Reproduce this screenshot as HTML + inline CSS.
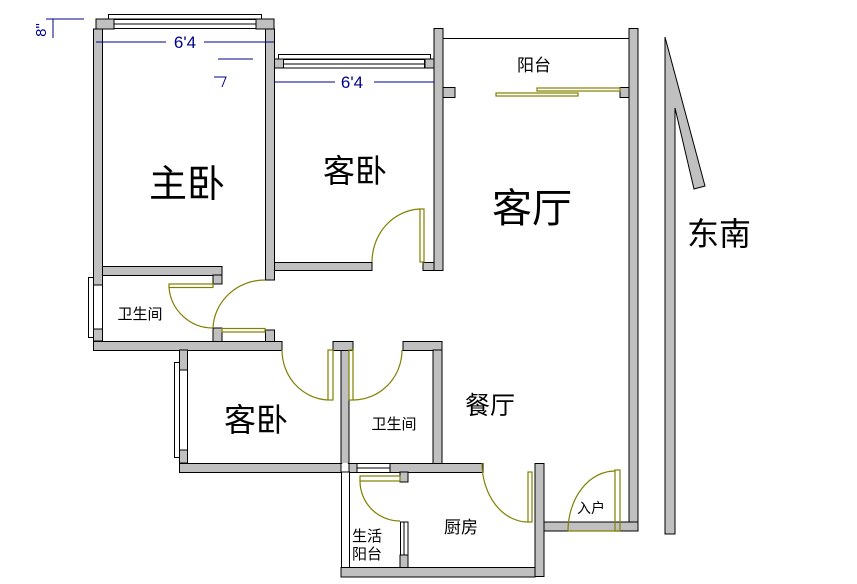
<!DOCTYPE html>
<html><head><meta charset="utf-8"><style>
html,body{margin:0;padding:0;background:#fff;}
svg{display:block;}
text{font-family:"Liberation Sans","Noto Sans CJK SC",sans-serif;}
.cj{font-family:"Noto Serif CJK SC","Noto Sans CJK SC",serif;}
</style></head><body>
<svg width="857" height="584" viewBox="0 0 857 584" xmlns="http://www.w3.org/2000/svg">
<g fill="#c0c0c0" stroke="#000" stroke-width="1">
<!-- master bedroom -->
<rect x="96" y="19" width="18" height="10"/>
<rect x="93.5" y="29" width="9" height="312"/>
<rect x="256" y="19" width="18" height="10"/>
<rect x="265.5" y="29" width="9" height="251"/>
<rect x="102.5" y="266.5" width="119.5" height="9"/>
<rect x="213" y="275" width="9" height="9"/>
<!-- bath1 -->
<rect x="93.5" y="341.5" width="188.5" height="9"/>
<rect x="213" y="328" width="9" height="13.5"/>
<rect x="265.5" y="330" width="9" height="11.5"/>
<!-- upper guest bedroom -->
<rect x="274.5" y="59" width="9" height="9"/>
<rect x="425" y="59" width="9" height="9"/>
<rect x="274.5" y="262.5" width="97.5" height="8"/>
<rect x="423" y="262.5" width="20" height="8"/>
<!-- living left wall -->
<rect x="434" y="28.5" width="9" height="242"/>
<rect x="443" y="87.5" width="12" height="10"/>
<rect x="620" y="87.5" width="9" height="10"/>
<rect x="629" y="28.5" width="9" height="502"/>
<rect x="544" y="522" width="94" height="9"/>
<!-- lower bedroom -->
<rect x="179.5" y="350" width="8" height="113"/>
<rect x="179.5" y="463.5" width="161.5" height="9"/>
<rect x="341" y="341.5" width="8" height="122"/>
<rect x="333" y="341.5" width="20" height="9"/>
<rect x="403" y="341.5" width="39" height="9"/>
<rect x="433" y="350" width="9" height="113.5"/>
<rect x="349" y="463.5" width="8" height="9"/>
<rect x="390" y="463.5" width="93" height="9"/>
<rect x="535" y="463.5" width="9" height="113"/>
<rect x="341" y="567.5" width="194" height="9.5"/>
<rect x="400" y="472" width="8" height="10"/>
<rect x="400" y="555" width="8" height="12.5"/>
<!-- compass -->
<polygon points="665,37 675,107 694,189 705,186 675,70 675,534 665,534" fill="none" stroke="none"/>
<polygon points="665,37 705,186 694,189 675,108 675,534 665,534"/>
</g>
<g fill="#fff" stroke="#000" stroke-width="1">
<rect x="108.5" y="14.5" width="153" height="4.5"/>
<rect x="114" y="19.5" width="142" height="9"/>
<line x1="114" y1="24" x2="256" y2="24"/>
<rect x="278.5" y="54.5" width="152" height="4.5"/>
<rect x="283.5" y="59.5" width="141" height="8.5"/>
<line x1="284" y1="64" x2="425" y2="64"/>
<rect x="88.5" y="277.5" width="5" height="60"/>
<rect x="93.5" y="285" width="9" height="44"/>
<rect x="174.5" y="362.5" width="5" height="95"/>
<rect x="179.5" y="370" width="8" height="80"/>
<rect x="357" y="463.5" width="33" height="9"/>
<line x1="357" y1="468" x2="390" y2="468"/>
<rect x="341.5" y="472" width="8" height="95.5"/>
<rect x="400.5" y="522" width="7.5" height="33"/>
<line x1="404" y1="522" x2="404" y2="555"/>
<line x1="443" y1="38.5" x2="629" y2="38.5"/>
</g>
<polygon points="342,463 348,463 345,470" fill="#fff"/>
<!-- doors -->
<g fill="none" stroke="#808000" stroke-width="1.2">
<rect x="169" y="284" width="44" height="3.5"/>
<path d="M169,287 A44,44 0 0 0 213,328"/>
<rect x="222" y="328.5" width="43" height="3.5"/>
<path d="M213,328 A52,50 0 0 1 265,280"/>
<rect x="420" y="209" width="4" height="53"/>
<path d="M372,262 A50,53 0 0 1 420,209"/>
<rect x="328" y="350" width="5" height="50"/>
<path d="M282,350 A48,50 0 0 0 328,400"/>
<rect x="349" y="350" width="4" height="50"/>
<path d="M353,400 A49,50 0 0 0 402,350"/>
<rect x="360" y="476" width="40" height="5"/>
<path d="M360,481 A40,40 0 0 0 400,521"/>
<rect x="528" y="472" width="4" height="50"/>
<path d="M482,463 A46,59 0 0 0 528,522"/>
<rect x="615" y="470" width="5" height="61"/>
<path d="M568,531 A47,60 0 0 1 615,471"/>
<line x1="568" y1="531" x2="620" y2="531"/>
<rect x="537" y="88" width="83" height="3"/>
<rect x="496" y="93" width="82" height="3"/>
</g>
<!-- dimensions -->
<g stroke="#00008b" stroke-width="1" fill="none">
<line x1="96" y1="42" x2="166" y2="42"/>
<line x1="204" y1="42" x2="274" y2="42"/>
<line x1="274" y1="82" x2="335" y2="82"/>
<line x1="374" y1="82" x2="434" y2="82"/>
<line x1="46" y1="19" x2="84" y2="19"/>
<line x1="53" y1="19" x2="53" y2="38"/>
<line x1="218" y1="59" x2="253" y2="59"/>
<path d="M214,77 L226,77 L222,87"/>
</g>
<g fill="#00008b" font-size="17">
<text x="185" y="48" text-anchor="middle">6'4</text>
<text x="352" y="88" text-anchor="middle">6'4</text>
<text transform="translate(46,30) rotate(-90)" text-anchor="middle" font-size="15">8"</text>
</g>
<g fill="#000" class="cj">
<text x="187" y="197" font-size="38" text-anchor="middle">主卧</text>
<text x="355" y="182" font-size="32" text-anchor="middle">客卧</text>
<text x="532" y="222" font-size="40" text-anchor="middle">客厅</text>
<text x="534" y="71" font-size="17" text-anchor="middle">阳台</text>
<text x="140" y="319" font-size="15" text-anchor="middle">卫生间</text>
<text x="256" y="431" font-size="32" text-anchor="middle">客卧</text>
<text x="394" y="429" font-size="15" text-anchor="middle">卫生间</text>
<text x="490" y="414" font-size="25" text-anchor="middle">餐厅</text>
<text x="461" y="533" font-size="17" text-anchor="middle">厨房</text>
<text x="367" y="541" font-size="15" text-anchor="middle">生活</text>
<text x="367" y="559" font-size="15" text-anchor="middle">阳台</text>
<text x="591" y="513" font-size="14" text-anchor="middle">入户</text>
<text x="719" y="245" font-size="32" text-anchor="middle">东南</text>
</g>
</svg>
</body></html>
